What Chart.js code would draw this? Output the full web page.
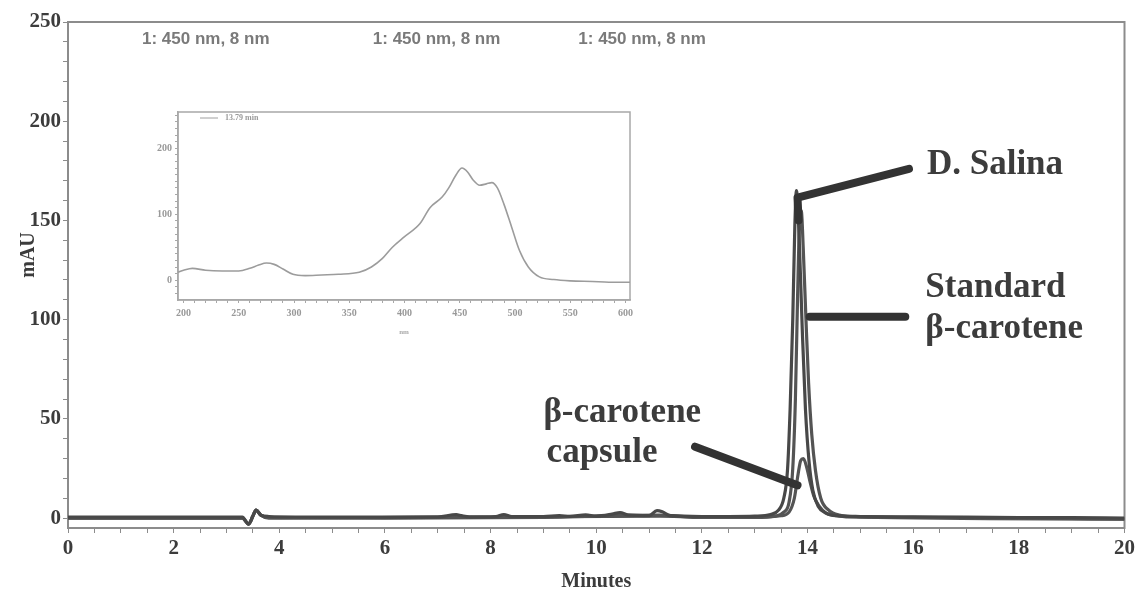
<!DOCTYPE html>
<html>
<head>
<meta charset="utf-8">
<script src="https://cdn.jsdelivr.net/npm/chart.js"></script>
<style>
  html, body { margin: 0; padding: 0; background: #fff; }
  #wrap { position: relative; width: 1138px; height: 600px; }
  #main { position: absolute; left: 0; top: 0; }
  #inset { position: absolute; left: 140px; top: 100px; }
</style>
</head>
<body>
<div id="wrap">
  <canvas id="main" width="1138" height="600"></canvas>
  <canvas id="inset" width="500" height="240"></canvas>
</div>
<script>
// chromatogram traces, retention time (min) vs absorbance (mAU)
const salinaTime = [0, 1, 2, 3, 3.3, 3.42, 3.5, 3.56, 3.65, 3.8, 5, 6, 7, 7.35, 7.45, 7.6, 8.1, 8.25, 8.4, 9, 9.3, 9.5, 9.8, 10.0, 10.3, 10.45, 10.6, 11.0, 11.15, 11.25, 11.4, 12, 12.5, 13, 13.3, 13.45, 13.55, 13.62, 13.67, 13.72, 13.76, 13.79, 13.84, 13.9, 13.96, 14.03, 14.1, 14.2, 14.35, 14.55, 15, 16, 17, 18, 19, 20];
const salinaMau  = [0.5, 0.5, 0.5, 0.5, 0.5, -3, 1, 4, 1.5, 0.8, 0.5, 0.5, 0.6, 1.8, 1.2, 0.6, 0.8, 1.8, 0.8, 0.8, 1.2, 0.9, 1.6, 1.0, 2.0, 2.8, 1.6, 1.2, 3.8, 3.2, 1.2, 0.8, 0.8, 1, 1.8, 4, 10, 24, 55, 100, 148, 165, 142, 95, 55, 28, 14, 6, 2.5, 1.2, 0.8, 0.6, 0.5, 0.3, 0.2, 0];

const standardTime = [0, 3.3, 3.42, 3.5, 3.56, 3.65, 3.8, 6, 9, 10.4, 11.2, 12, 13, 13.4, 13.55, 13.65, 13.72, 13.77, 13.81, 13.85, 13.88, 13.92, 13.97, 14.02, 14.08, 14.15, 14.25, 14.4, 14.6, 15, 17, 20];
const standardMau  = [0, 0, -3, 1, 4, 1.5, 0.3, 0, 0.3, 1.2, 1.5, 0.3, 0.3, 1, 3, 8, 25, 60, 110, 150, 155, 135, 100, 68, 42, 24, 10, 4, 1.5, 0.6, 0.3, -0.5];

const capsuleTime = [0, 3.3, 3.42, 3.5, 3.56, 3.65, 3.8, 8, 11.2, 12, 13, 13.5, 13.65, 13.75, 13.82, 13.87, 13.92, 13.98, 14.05, 14.12, 14.22, 14.35, 14.6, 15, 20];
const capsuleMau  = [0, 0, -3, 1, 4, 1.5, 0, 0.5, 1.0, 0.5, 0.5, 1.2, 3, 10, 22, 29, 30, 26, 18, 11, 6, 2.5, 1, 0.5, -0.5];

const minuteTicks = [0, 2, 4, 6, 8, 10, 12, 14, 16, 18, 20];
const mauTicks = [0, 50, 100, 150, 200, 250];
const channelNote = '1: 450 nm, 8 nm';
const channelNoteTimes = [1.4, 5.77, 9.66];

// peak names and the pointers that lead to them (time, mAU)
const peakNotes = [
  { text: 'D. Salina', t: 16.26, v: 173.5 },
  { text: 'Standard', t: 16.23, v: 111.5 },
  { text: 'β-carotene', t: 16.23, v: 91 },
  { text: 'β-carotene', t: 9.0, v: 48.5 },
  { text: 'capsule', t: 9.06, v: 28.5 }
];
const pointers = [
  [[15.92, 176], [13.81, 161.5], [13.83, 150]],
  [[15.85, 101.5], [14.04, 101.5]],
  [[11.87, 36], [13.81, 16.5]]
];

// UV-Vis spectrum of the 13.79 min peak
const spectrumNm  = [195, 200, 208, 220, 235, 250, 260, 268, 275, 282, 290, 299, 310, 325, 340, 359, 370, 380, 389, 400, 414, 423, 434, 440, 446, 452, 457, 462, 468, 474, 479, 484, 490, 497, 504, 512, 522, 535, 550, 570, 585, 600, 604];
const spectrumMau = [12, 15, 18, 15, 14, 14, 18, 23, 26, 24, 17, 9, 7, 8, 9, 12, 20, 33, 50, 66, 86, 110, 126, 140, 158, 170, 164, 152, 144, 146, 148, 140, 115, 80, 45, 20, 5, 1, -1, -2, -3, -3, -3];
const nmTicks = [200, 250, 300, 350, 400, 450, 500, 550, 600];
const spectrumMauTicks = [0, 100, 200];

const serif = '"Liberation Serif", "Times New Roman", serif';
const frameColor = '#8c8c8c';
const inkColor = '#3c3c3c';

function points(xs, ys) {
  return xs.map((x, i) => ({ x: x, y: ys[i] }));
}

function stepTicks(from, to, step) {
  const out = [];
  for (let v = from; v <= to + 1e-9; v += step) out.push({ value: Math.round(v * 100) / 100 });
  return out;
}

const framePlugin = {
  id: 'frame',
  beforeDatasetsDraw(chart) {
    const a = chart.chartArea, ctx = chart.ctx;
    ctx.save();
    ctx.strokeStyle = frameColor;
    ctx.lineWidth = 2;
    ctx.strokeRect(a.left, a.top, a.right - a.left, a.bottom - a.top);
    ctx.restore();
  }
};

const notesPlugin = {
  id: 'notes',
  afterDatasetsDraw(chart) {
    const ctx = chart.ctx, xs = chart.scales.x, ys = chart.scales.y;
    ctx.save();

    // channel captions along the top
    ctx.fillStyle = '#7a7a7a';
    ctx.font = 'bold 17px "Liberation Sans", Arial, sans-serif';
    ctx.textBaseline = 'middle';
    channelNoteTimes.forEach(t => {
      ctx.fillText(channelNote, xs.getPixelForValue(t), ys.getPixelForValue(241.5));
    });

    // thick pointers
    ctx.strokeStyle = '#333';
    ctx.lineWidth = 8;
    ctx.lineCap = 'round';
    ctx.lineJoin = 'round';
    pointers.forEach(path => {
      ctx.beginPath();
      path.forEach((p, i) => {
        const px = xs.getPixelForValue(p[0]), py = ys.getPixelForValue(p[1]);
        if (i === 0) ctx.moveTo(px, py); else ctx.lineTo(px, py);
      });
      ctx.stroke();
    });

    // peak names
    ctx.fillStyle = inkColor;
    ctx.font = 'bold 35px ' + serif;
    ctx.textBaseline = 'alphabetic';
    peakNotes.forEach(n => {
      ctx.fillText(n.text, xs.getPixelForValue(n.t), ys.getPixelForValue(n.v));
    });

    // y axis title
    ctx.translate(29, 255);
    ctx.rotate(-Math.PI / 2);
    ctx.textAlign = 'center';
    ctx.textBaseline = 'middle';
    ctx.font = 'bold 20px ' + serif;
    ctx.fillText('mAU', 0, 0);
    ctx.restore();
  }
};

function trace(data, color) {
  return {
    data: data,
    borderColor: color,
    borderWidth: 3.2,
    pointRadius: 0,
    cubicInterpolationMode: 'monotone'
  };
}

new Chart(document.getElementById('main'), {
  type: 'line',
  data: {
    datasets: [
      trace(points(salinaTime, salinaMau), '#484848'),
      trace(points(standardTime, standardMau), '#545454'),
      trace(points(capsuleTime, capsuleMau), '#545454')
    ]
  },
  options: {
    responsive: false,
    animation: false,
    layout: { padding: { top: 22, right: 10, left: 0, bottom: 0 } },
    plugins: { legend: { display: false }, tooltip: { enabled: false } },
    scales: {
      x: {
        type: 'linear',
        min: 0,
        max: 20,
        afterFit(scale) { scale.height = 72; },
        afterBuildTicks(scale) { scale.ticks = stepTicks(0, 20, 0.5); },
        grid: { drawOnChartArea: false, color: frameColor, tickLength: 5 },
        border: { color: frameColor, width: 2 },
        ticks: {
          autoSkip: false,
          maxRotation: 0,
          padding: 3,
          color: inkColor,
          font: { family: serif, size: 21, weight: 'bold' },
          callback: v => minuteTicks.includes(v) ? String(v) : ''
        },
        title: {
          display: true,
          text: 'Minutes',
          color: inkColor,
          font: { family: serif, size: 20, weight: 'bold' },
          padding: { top: 4, bottom: 6 }
        }
      },
      y: {
        min: -5,
        max: 250,
        afterFit(scale) { scale.width = 68; },
        afterBuildTicks(scale) { scale.ticks = stepTicks(0, 250, 10); },
        grid: { drawOnChartArea: false, color: frameColor, tickLength: 5 },
        border: { color: frameColor, width: 2 },
        ticks: {
          autoSkip: false,
          padding: 2,
          color: inkColor,
          font: { family: serif, size: 21, weight: 'bold' },
          callback: v => mauTicks.includes(v) ? String(v) : ''
        }
      }
    }
  },
  plugins: [framePlugin, notesPlugin]
});

const insetLegend = {
  id: 'insetLegend',
  afterDatasetsDraw(chart) {
    const a = chart.chartArea, ctx = chart.ctx;
    ctx.save();
    ctx.strokeStyle = '#a0a0a0';
    ctx.lineWidth = 1;
    ctx.beginPath();
    ctx.moveTo(a.left + 22, a.top + 6);
    ctx.lineTo(a.left + 40, a.top + 6);
    ctx.stroke();
    ctx.fillStyle = '#9a9a9a';
    ctx.font = 'bold 8px ' + serif;
    ctx.textBaseline = 'middle';
    ctx.fillText('13.79 min', a.left + 47, a.top + 6);
    ctx.restore();
  }
};

new Chart(document.getElementById('inset'), {
  type: 'line',
  data: {
    datasets: [{
      data: points(spectrumNm, spectrumMau),
      borderColor: '#9c9c9c',
      borderWidth: 1.6,
      pointRadius: 0,
      cubicInterpolationMode: 'monotone'
    }]
  },
  options: {
    responsive: false,
    animation: false,
    layout: { padding: { top: 12, right: 10, left: 0, bottom: 0 } },
    plugins: { legend: { display: false }, tooltip: { enabled: false } },
    scales: {
      x: {
        type: 'linear',
        min: 195,
        max: 604,
        afterFit(scale) { scale.height = 40; },
        afterBuildTicks(scale) { scale.ticks = stepTicks(200, 600, 10); },
        grid: { drawOnChartArea: false, color: '#a8a8a8', tickLength: 3 },
        border: { color: '#a8a8a8', width: 1.5 },
        ticks: {
          autoSkip: false,
          maxRotation: 0,
          padding: 4,
          color: '#999',
          font: { family: serif, size: 10, weight: 'bold' },
          callback: v => nmTicks.includes(v) ? String(v) : ''
        },
        title: {
          display: true,
          text: 'nm',
          color: '#aaa',
          font: { family: serif, size: 7, weight: 'bold' },
          padding: { top: 0, bottom: 4 }
        }
      },
      y: {
        min: -30,
        max: 255,
        afterFit(scale) { scale.width = 38; },
        afterBuildTicks(scale) { scale.ticks = stepTicks(-20, 250, 10); },
        grid: { drawOnChartArea: false, color: '#a8a8a8', tickLength: 3 },
        border: { color: '#a8a8a8', width: 1.5 },
        ticks: {
          autoSkip: false,
          padding: 3,
          color: '#999',
          font: { family: serif, size: 10, weight: 'bold' },
          callback: v => spectrumMauTicks.includes(v) ? String(v) : ''
        }
      }
    }
  },
  plugins: [{
    id: 'insetFrame',
    beforeDatasetsDraw(chart) {
      const a = chart.chartArea, ctx = chart.ctx;
      ctx.save();
      ctx.strokeStyle = '#a8a8a8';
      ctx.lineWidth = 1.5;
      ctx.strokeRect(a.left, a.top, a.right - a.left, a.bottom - a.top);
      ctx.restore();
    }
  }, insetLegend]
});
</script>
</body>
</html>
